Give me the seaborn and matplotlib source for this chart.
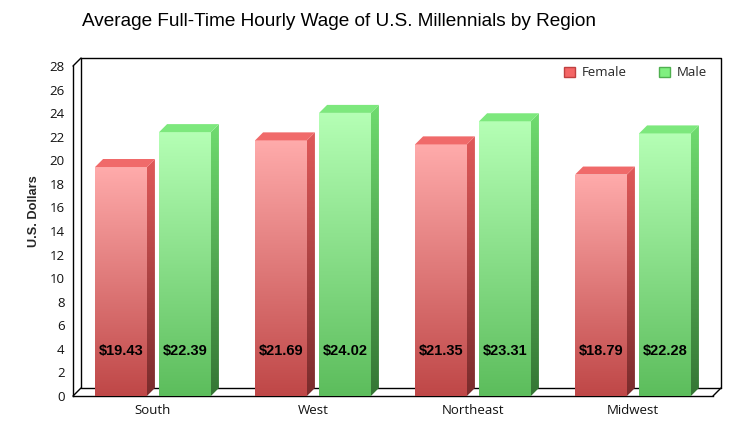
import numpy as np
import pandas as pd
import seaborn as sns
import matplotlib
matplotlib.use('Agg')
import matplotlib.pyplot as plt
from matplotlib.patches import Polygon, Patch
from matplotlib.colors import LinearSegmentedColormap

# data
regions = ['South', 'West', 'Northeast', 'Midwest']
female = [19.43, 21.69, 21.35, 18.79]
male = [22.39, 24.02, 23.31, 22.28]
sexes = ['Female', 'Male']
title = 'Average Full-Time Hourly Wage of U.S. Millennials by Region'

df = pd.DataFrame({
    'region': regions * 2,
    'wage': female + male,
    'sex': ['Female'] * len(regions) + ['Male'] * len(regions),
})

sns.set_style('white')
plt.rcParams['font.family'] = ['Open Sans', 'DejaVu Sans']

# colours: front top, front bottom, side top, side bottom, top face
shades = {
    'Female': ('#ffabab', '#bf4747', '#e05a5a', '#7a2c2c', '#f06a6a'),
    'Male': ('#b5ffb5', '#5cbd5c', '#6fdc6f', '#347534', '#7de87d'),
}

fig = plt.figure(figsize=(7.47, 4.33), dpi=100)
ax = fig.add_axes([73 / 747, 37 / 433, 640 / 747, 330 / 433])

sns.barplot(data=df, x='region', y='wage', hue='sex', order=regions,
            hue_order=sexes, width=0.8, gap=0.19, ax=ax, legend=False,
            palette=['#f06060', '#70e070'])

ax.set_xlim(-0.5, 3.5)
ax.set_ylim(0, 28)
dx = 8 / 160
dy = 8 / (330 / 28)


def grad_fill(clip, extent, top, bottom, z):
    cmap = LinearSegmentedColormap.from_list('g', [bottom, top])
    g = np.linspace(0, 1, 256).reshape(-1, 1)
    im = ax.imshow(g, cmap=cmap, origin='lower', extent=extent,
                   aspect='auto', zorder=z, interpolation='bilinear')
    im.set_clip_path(clip)


bars = [p for p in ax.patches if p.get_width() > 0]
bars = sorted(bars, key=lambda p: p.get_x())
for i, p in enumerate(bars):
    x, w, h = p.get_x(), p.get_width(), p.get_height()
    sex = sexes[i % 2]
    ft, fb, st, sb, tp = shades[sex]
    p.set_facecolor('none')
    p.set_edgecolor('none')
    p.set_zorder(3)
    grad_fill(p, (x, x + w, 0, h), ft, fb, 3)
    side = Polygon([(x + w, 0), (x + w + dx, dy), (x + w + dx, h + dy), (x + w, h)],
                   closed=True, facecolor='none', edgecolor='none', zorder=3)
    ax.add_patch(side)
    grad_fill(side, (x + w, x + w + dx, 0, h + dy), st, sb, 3)
    top = Polygon([(x, h), (x + w, h), (x + w + dx, h + dy), (x + dx, h + dy)],
                  closed=True, facecolor=tp, edgecolor='none', zorder=3)
    ax.add_patch(top)
    val = female[i // 2] if sex == 'Female' else male[i // 2]
    ax.text(x + w / 2, 3.8, f'${val:.2f}', ha='center', va='center',
            fontsize=10.5, fontweight='bold', family='Liberation Sans',
            color='black', zorder=5)

ax.set_xlim(-0.5, 3.5)
ax.set_ylim(0, 28)

# 3d frame
x0, x1 = -0.5, 3.5
lk = dict(color='black', lw=1, clip_on=False, zorder=0.5)
ax.plot([x0 + dx, x1 + dx, x1 + dx], [28 + dy, 28 + dy, dy], **lk)
ax.plot([x0 + dx, x0 + dx, x1 + dx], [28 + dy, dy, dy], **lk)
ax.plot([x0, x0 + dx], [28, 28 + dy], **lk)
ax.plot([x0, x0 + dx], [0, dy], **lk)
ax.plot([x1, x1 + dx], [0, dy], **lk)

for s in ['top', 'right']:
    ax.spines[s].set_visible(False)
for s in ['left', 'bottom']:
    ax.spines[s].set_color('black')
    ax.spines[s].set_linewidth(1)

ax.set_yticks(range(0, 29, 2))
ax.tick_params(axis='both', length=0, labelsize=9.5, colors='#111111')
ax.tick_params(axis='y', pad=6)
ax.tick_params(axis='x', pad=6)
ax.set_xlabel('')
ax.set_ylabel('U.S. Dollars', fontsize=9.2, fontweight='bold',
              family='Liberation Sans')
ax.yaxis.set_label_coords(-0.052, 0.56)
fig.text(82 / 747, 1 - 22 / 433, title, fontsize=13.7, va='center', ha='left',
         family='Liberation Sans', color='black')

handles = [Patch(facecolor='#f46666', edgecolor='#c04040', label='Female'),
           Patch(facecolor='#80f080', edgecolor='#50b050', label='Male')]
ax.legend(handles=handles, loc='center right', bbox_to_anchor=(0.99, 0.979),
          ncol=2, frameon=False, fontsize=9.5, handlelength=0.85,
          handleheight=0.85, handletextpad=0.5, columnspacing=2.4,
          borderaxespad=0, borderpad=0)

fig.savefig('out.png', dpi=100, facecolor='white')
